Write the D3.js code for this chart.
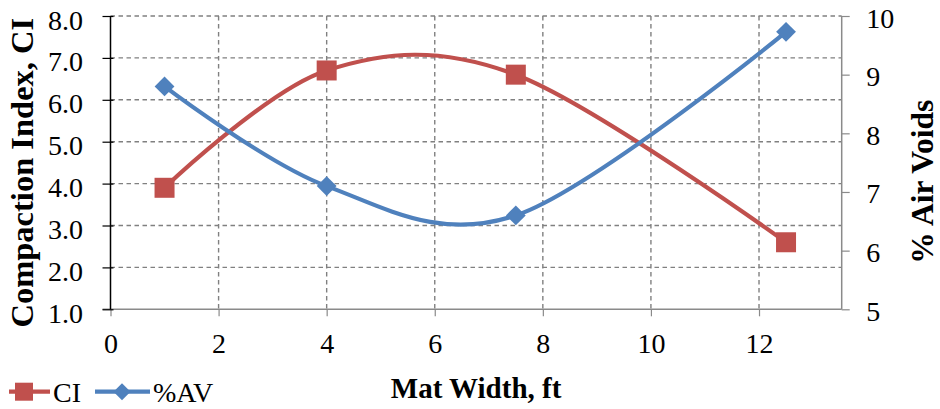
<!DOCTYPE html>
<html>
<head>
<meta charset="utf-8">
<script src="https://cdn.jsdelivr.net/npm/d3@7/dist/d3.min.js"></script>
<style>
  html, body { margin: 0; padding: 0; background: #fff; }
  svg { display: block; }
  svg text { font-family: "Liberation Serif", "Times New Roman", serif !important; }
</style>
</head>
<body>
<svg id="chart" width="940" height="409"></svg>
<script>
// ---- data ----
const matWidth = [1, 4, 7.5, 12.5];
const ciValues = [3.9, 6.7, 6.6, 2.6];
const avValues = [8.8, 7.1, 6.6, 9.73];
const xTicks = [0, 2, 4, 6, 8, 10, 12];
const leftTicks = [1, 2, 3, 4, 5, 6, 7, 8];
const rightTicks = [5, 6, 7, 8, 9, 10];
const seriesNames = ["CI", "%AV"];
const colors = ["#C0504D", "#4F81BD"];

// ---- layout ----
const L = 110.5, R = 841.7, T = 16, B = 309.3;
const svg = d3.select("#chart");

const x = d3.scaleLinear().domain([0, 13.53]).range([L, R]);
const yL = d3.scaleLinear().domain([1, 8]).range([B, T]);
const yR = d3.scaleLinear().domain([5, 10]).range([B, T]);

const gridColor = "#808080";
const serif = "'Liberation Serif', 'Times New Roman', serif";

// horizontal gridlines
svg.append("g").selectAll("line").data(leftTicks.filter(d => d > 1)).join("line")
  .attr("x1", L).attr("x2", R)
  .attr("y1", d => yL(d)).attr("y2", d => yL(d))
  .attr("stroke", gridColor).attr("stroke-width", 1.4).attr("stroke-dasharray", "4.5,3.5");

// vertical gridlines
svg.append("g").selectAll("line").data(xTicks.filter(d => d > 0)).join("line")
  .attr("x1", d => x(d)).attr("x2", d => x(d))
  .attr("y1", T).attr("y2", B)
  .attr("stroke", gridColor).attr("stroke-width", 1.4).attr("stroke-dasharray", "4.5,3.5");

// bottom axis
const xAxis = svg.append("g").attr("transform", `translate(0,${B})`)
  .call(d3.axisBottom(x).tickValues(xTicks).tickSize(7).tickPadding(0).tickFormat(d3.format("d")));
xAxis.attr("font-family", null);
xAxis.select(".domain").attr("stroke", "#8a8a8a").attr("stroke-width", 1.5).attr("d", `M${L - 8},0H${R}`);
xAxis.selectAll(".tick line").attr("stroke", "#8a8a8a").attr("stroke-width", 1.2);
xAxis.selectAll(".tick text").attr("y", 44).attr("dy", null)
  .attr("font-size", 28).attr("fill", "#000").style("font-family", serif);

// left axis
const yAxisL = svg.append("g").attr("transform", `translate(${L},0)`)
  .call(d3.axisLeft(yL).tickValues(leftTicks).tickSize(8).tickFormat(d3.format(".1f")));
yAxisL.attr("font-family", null);
yAxisL.select(".domain").attr("stroke", "#000").attr("stroke-width", 1.5).attr("d", `M0,${T}V${B}`);
yAxisL.selectAll(".tick line").attr("stroke", "#000").attr("stroke-width", 1.2).attr("x2", -8).attr("x1", 3);
yAxisL.selectAll(".tick text").attr("x", -27.5).attr("dy", null).attr("y", 13)
  .attr("font-size", 28).attr("fill", "#000").style("font-family", serif);

// right axis
const yAxisR = svg.append("g").attr("transform", `translate(${R},0)`)
  .call(d3.axisRight(yR).tickValues(rightTicks).tickSize(8).tickFormat(d3.format("d")));
yAxisR.attr("font-family", null);
yAxisR.select(".domain").attr("stroke", "#8a8a8a").attr("stroke-width", 1.5).attr("d", `M0,${T}V${B}`);
yAxisR.selectAll(".tick line").attr("stroke", "#8a8a8a").attr("stroke-width", 1.2);
yAxisR.selectAll(".tick text").attr("x", 24.5).attr("dy", null).attr("y", 11)
  .attr("font-size", 28).attr("fill", "#000").style("font-family", serif);

// axis titles
svg.append("text").attr("transform", `translate(33,${(T + B) / 2 + 10}) rotate(-90)`)
  .attr("text-anchor", "middle").attr("font-weight", "bold").attr("font-size", 32.5)
  .style("font-family", serif)
  .text("Compaction Index, CI");
svg.append("text").attr("transform", `translate(933,${(T + B) / 2 + 19}) rotate(-90)`)
  .attr("text-anchor", "middle").attr("font-weight", "bold").attr("font-size", 31.5)
  .style("font-family", serif)
  .text("% Air Voids");
svg.append("text").attr("x", (L + R) / 2).attr("y", 397.5)
  .attr("text-anchor", "middle").attr("font-weight", "bold").attr("font-size", 29)
  .style("font-family", serif)
  .text("Mat Width, ft");

// lines
const lineCI = d3.line().x((d, i) => x(matWidth[i])).y(d => yL(d)).curve(d3.curveCardinal.tension(0));
const lineAV = d3.line().x((d, i) => x(matWidth[i])).y(d => yR(d)).curve(d3.curveCardinal.tension(0));

svg.append("path").attr("d", lineCI(ciValues)).attr("fill", "none")
  .attr("stroke", colors[0]).attr("stroke-width", 4.2);
svg.append("path").attr("d", lineAV(avValues)).attr("fill", "none")
  .attr("stroke", colors[1]).attr("stroke-width", 4.2);

// markers
const sq = 20;
svg.append("g").selectAll("rect").data(ciValues).join("rect")
  .attr("x", (d, i) => x(matWidth[i]) - sq / 2).attr("y", d => yL(d) - sq / 2)
  .attr("width", sq).attr("height", sq).attr("fill", colors[0]);

const dm = 14;
svg.append("g").selectAll("rect").data(avValues).join("rect")
  .attr("transform", (d, i) => `translate(${x(matWidth[i])},${yR(d)}) rotate(45)`)
  .attr("x", -dm / 2).attr("y", -dm / 2).attr("width", dm).attr("height", dm)
  .attr("fill", colors[1]);

// legend
const legY = 391.7;
const leg = svg.append("g");
leg.append("line").attr("x1", 9).attr("x2", 50).attr("y1", legY).attr("y2", legY)
  .attr("stroke", colors[0]).attr("stroke-width", 4.2);
leg.append("rect").attr("x", 24 - 9).attr("y", legY - 9).attr("width", 18).attr("height", 18).attr("fill", colors[0]);
leg.append("text").attr("x", 53).attr("y", 401.5).attr("font-size", 28).style("font-family", serif).text(seriesNames[0]);

leg.append("line").attr("x1", 95).attr("x2", 150).attr("y1", legY).attr("y2", legY)
  .attr("stroke", colors[1]).attr("stroke-width", 4.2);
leg.append("rect").attr("transform", `translate(122,${legY}) rotate(45)`)
  .attr("x", -6).attr("y", -6).attr("width", 12).attr("height", 12).attr("fill", colors[1]);
leg.append("text").attr("x", 153).attr("y", 401.5).attr("font-size", 28).style("font-family", serif).text(seriesNames[1]);
</script>
</body>
</html>
